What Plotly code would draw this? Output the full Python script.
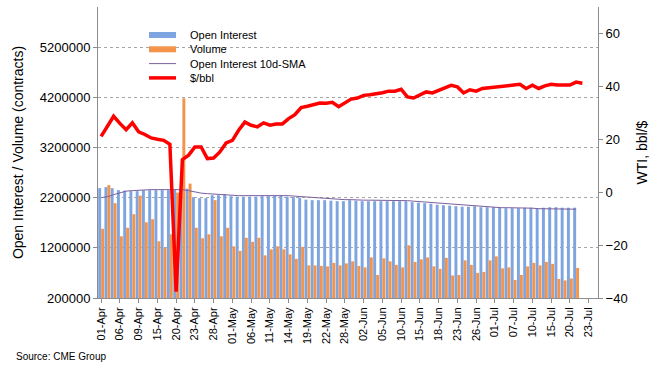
import plotly.graph_objects as go

dates = ["01-Apr","02-Apr","03-Apr","06-Apr","07-Apr","08-Apr","09-Apr","13-Apr","14-Apr","15-Apr",
         "16-Apr","17-Apr","20-Apr","21-Apr","22-Apr","23-Apr","24-Apr","27-Apr","28-Apr","29-Apr",
         "30-Apr","01-May","04-May","05-May","06-May","07-May","08-May","11-May","12-May","13-May",
         "14-May","15-May","18-May","19-May","20-May","21-May","22-May","26-May","27-May","28-May",
         "29-May","01-Jun","02-Jun","03-Jun","04-Jun","05-Jun","08-Jun","09-Jun","10-Jun","11-Jun",
         "12-Jun","15-Jun","16-Jun","17-Jun","18-Jun","19-Jun","22-Jun","23-Jun","24-Jun","25-Jun",
         "26-Jun","29-Jun","30-Jun","01-Jul","02-Jul","06-Jul","07-Jul","08-Jul","09-Jul","10-Jul",
         "13-Jul","14-Jul","15-Jul","16-Jul","17-Jul","20-Jul","21-Jul","22-Jul","23-Jul","24-Jul"]

open_interest = [2390000,2410000,2390000,2350000,2340000,2330000,2330000,2350000,2350000,2350000,
                 2350000,2350000,2360000,2370000,2380000,2210000,2190000,2190000,2250000,2250000,
                 2270000,2230000,2220000,2220000,2220000,2220000,2230000,2230000,2240000,2250000,
                 2220000,2210000,2200000,2160000,2150000,2150000,2150000,2140000,2130000,2130000,
                 2150000,2140000,2130000,2130000,2130000,2130000,2130000,2130000,2130000,2130000,
                 2110000,2100000,2090000,2080000,2060000,2050000,2040000,2030000,2020000,2020000,
                 2030000,2010000,2010000,2010000,2000000,1990000,1990000,1990000,2000000,2000000,
                 1990000,2000000,2010000,2010000,2000000,2000000,2000000]

volume = [1580000,2450000,2090000,1430000,1600000,1870000,2240000,1710000,1770000,1330000,
          1200000,1470000,2300000,4180000,2480000,1600000,1390000,1470000,2150000,1430000,
          1600000,1230000,1140000,1400000,1320000,1400000,1050000,1170000,1230000,1170000,
          1070000,980000,1220000,850000,850000,840000,830000,900000,850000,890000,
          930000,840000,810000,1010000,660000,990000,930000,860000,810000,1250000,
          920000,970000,1010000,830000,780000,1000000,650000,660000,950000,860000,
          700000,720000,950000,1030000,790000,810000,560000,660000,830000,900000,
          850000,920000,880000,580000,550000,590000,800000]

oi_sma10 = [2200000,2220000,2260000,2300000,2330000,2340000,2350000,2360000,2360000,2360000,
            2360000,2360000,2360000,2360000,2340000,2310000,2290000,2280000,2270000,2260000,
            2250000,2240000,2240000,2240000,2240000,2250000,2250000,2250000,2250000,2240000,
            2240000,2230000,2220000,2210000,2200000,2190000,2180000,2170000,2160000,2160000,
            2160000,2150000,2150000,2150000,2150000,2150000,2150000,2150000,2150000,2140000,
            2130000,2120000,2110000,2100000,2090000,2080000,2070000,2060000,2050000,2040000,
            2030000,2020000,2020000,2010000,2000000,2000000,2000000,1990000,1990000,1990000,
            1980000,1980000,1980000,1970000,1970000,1970000,1970000]

wti = [21.1,24.9,28.7,26.0,23.6,26.2,22.8,21.8,20.5,20.0,
       19.6,18.1,-37.6,12.3,14.0,17.1,17.1,12.7,12.9,15.2,
       18.6,19.6,23.4,26.5,25.3,24.7,26.2,25.3,25.8,25.8,
       27.8,29.3,32.0,32.5,33.2,33.7,33.6,34.0,32.3,33.7,
       35.2,35.6,36.6,36.8,37.1,37.6,38.2,38.2,38.9,36.0,
       35.6,36.7,37.9,37.5,38.5,39.5,40.4,39.8,37.5,38.7,
       38.2,39.2,39.4,39.6,39.9,40.2,40.5,40.8,39.2,40.4,
       39.2,40.2,40.8,40.5,40.4,40.5,41.6,41.2]

left_ticks = [200000,1200000,2200000,3200000,4200000,5200000]
right_ticks = [-40,-20,0,20,40,60]

series_names = ["Open Interest", "Volume", "Open Interest 10d-SMA", "$/bbl"]

FONT = "Liberation Sans, Arial, sans-serif"
BLUE = "#7EA5E0"
ORANGE = "#F4934A"
PURPLE = "#7B5FA0"
RED = "#FF0000"
AXIS = "#8C8C8C"

# plot area in pixels
L, R, T, B = 98, 598, 7, 298
W, H = R - L, B - T
def px(x):
    return (x - L) / W
def py(y):
    return (B - y) / H

fig = go.Figure()
fig.add_trace(go.Bar(x=dates[:len(open_interest)], y=open_interest, name=series_names[0],
                     marker=dict(color=BLUE, line=dict(width=0)), showlegend=False))
fig.add_trace(go.Bar(x=dates[:len(volume)], y=volume, name=series_names[1],
                     marker=dict(color=ORANGE, line=dict(width=0)), showlegend=False))
fig.add_trace(go.Scatter(x=dates[:len(oi_sma10)], y=oi_sma10, mode="lines",
                         name=series_names[2], line=dict(color=PURPLE, width=1),
                         showlegend=False))
fig.add_trace(go.Scatter(x=dates[:len(wti)], y=wti, mode="lines", name=series_names[3], yaxis="y2",
                         line=dict(color=RED, width=3.5), showlegend=False))

# legend drawn as key lines + text (Excel-style compact legend)
legend_style = [(BLUE, 6), (ORANGE, 6), (PURPLE, 1), (RED, 3.5)]
shapes = []
annotations = []
for i, (name, (col, wid)) in enumerate(zip(series_names, legend_style)):
    yy = 35 + i * 14.3
    shapes.append(dict(type="line", xref="paper", yref="paper",
                       x0=px(149), x1=px(176), y0=py(yy), y1=py(yy),
                       line=dict(color=col, width=wid)))
    annotations.append(dict(text=name, x=px(188), y=py(yy), xref="paper", yref="paper",
                            xanchor="left", yanchor="middle", showarrow=False,
                            font=dict(size=11)))

annotations.append(dict(text="Source: CME Group", x=px(14), y=py(356), xref="paper", yref="paper",
                        xanchor="left", yanchor="middle", showarrow=False, font=dict(size=10)))

fig.update_layout(
    width=660, height=373,
    margin=dict(l=L, r=660 - R, t=T, b=373 - B, autoexpand=False),
    paper_bgcolor="white", plot_bgcolor="white",
    font=dict(family=FONT, size=13, color="#000000"),
    barmode="group", bargap=0.06, bargroupgap=0,
    showlegend=False,
    xaxis=dict(type="category", categoryorder="array", categoryarray=dates,
               range=[-0.5, len(dates) - 0.5], automargin=False,
               tickmode="array", tickvals=dates[::3], ticktext=dates[::3],
               tickangle=-90, tickfont=dict(size=11),
               showline=True, linecolor=AXIS, linewidth=1,
               ticks="outside", ticklen=4, tickcolor=AXIS,
               showgrid=False, zeroline=False),
    yaxis=dict(range=[200000, 6000000], tickmode="array", tickvals=left_ticks,
               ticktext=[str(v) for v in left_ticks], automargin=False,
               title=dict(text="Open Interest / Volume (contracts)", font=dict(size=14), standoff=12),
               showline=True, linecolor=AXIS, linewidth=1,
               ticks="outside", ticklen=4, tickcolor=AXIS,
               showgrid=True, gridcolor="#A6A6A6", griddash="dot", gridwidth=1,
               zeroline=False),
    yaxis2=dict(range=[-40, 70], overlaying="y", side="right", automargin=False,
                tickmode="array", tickvals=right_ticks,
                title=dict(text="WTI, bbl/$", font=dict(size=14), standoff=10),
                showline=True, linecolor=AXIS, linewidth=1,
                ticks="outside", ticklen=4, tickcolor=AXIS,
                showgrid=False, zeroline=False),
    shapes=shapes,
    annotations=annotations,
)

fig.write_html("out.html", config={"displayModeBar": False},
               post_script="document.body.style.margin='0';")
